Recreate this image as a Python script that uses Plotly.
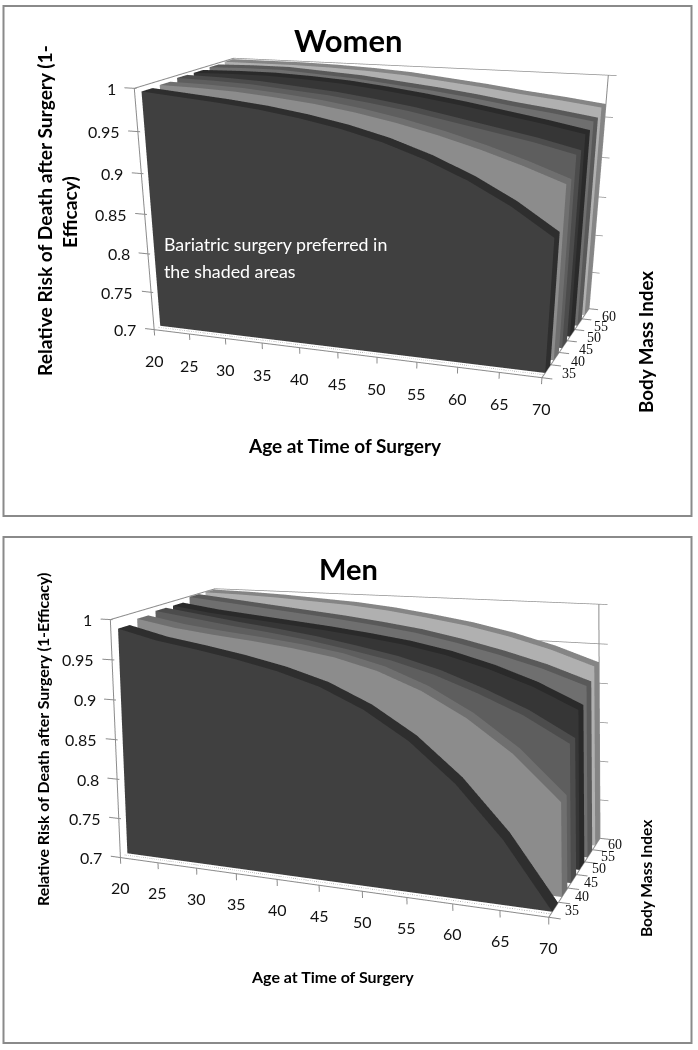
import plotly.graph_objects as go

# ages on the x axis, BMI series on the depth axis
ages = [20, 25, 30, 35, 40, 45, 50, 55, 60, 65, 70]
bmi = [35, 40, 45, 50, 55, 60]
z_ticks = [0.7, 0.75, 0.8, 0.85, 0.9, 0.95, 1]

women_35 = [0.994, 0.990, 0.986, 0.981, 0.974, 0.965, 0.953, 0.937, 0.917, 0.892, 0.861]
women_40 = [0.995, 0.994, 0.992, 0.988, 0.983, 0.976, 0.967, 0.956, 0.943, 0.928, 0.911]
women_45 = [0.997, 0.996, 0.994, 0.990, 0.986, 0.980, 0.973, 0.964, 0.955, 0.946, 0.935]
women_50 = [0.997, 0.998, 0.998, 0.996, 0.993, 0.988, 0.982, 0.975, 0.967, 0.959, 0.950]
women_55 = [0.998, 0.999, 0.999, 0.996, 0.993, 0.988, 0.983, 0.977, 0.970, 0.964, 0.957]
women_60 = [0.999, 0.999, 0.999, 0.998, 0.996, 0.993, 0.988, 0.983, 0.977, 0.972, 0.966]

men_35 = [0.986, 0.974, 0.966, 0.957, 0.946, 0.931, 0.908, 0.876, 0.832, 0.774, 0.700]
men_40 = [0.991, 0.982, 0.976, 0.971, 0.965, 0.957, 0.944, 0.924, 0.896, 0.859, 0.809]
men_45 = [0.994, 0.987, 0.980, 0.974, 0.967, 0.958, 0.948, 0.934, 0.915, 0.893, 0.864]
men_50 = [0.994, 0.987, 0.982, 0.977, 0.972, 0.966, 0.959, 0.949, 0.935, 0.917, 0.893]
men_55 = [0.999, 0.994, 0.989, 0.984, 0.979, 0.973, 0.966, 0.956, 0.944, 0.930, 0.912]
men_60 = [0.999, 0.998, 0.996, 0.993, 0.990, 0.985, 0.978, 0.970, 0.959, 0.945, 0.927]

front_colors = ["#404040", "#8c8c8c", "#5e5e5e", "#363636", "#6f6f6f", "#b0b0b0"]
edge_colors = ["#2e2e2e", "#6f6f6f", "#4c4c4c", "#2a2a2a", "#595959", "#858585"]

XR, YR, ZR = [18.5, 71.5], [31.5, 63.5], [0.688, 1.005]
Y0, Y1 = 32.5, 62.5
AXIS_GREY = "#8c8c8c"
FONT = "Lato"


def add_quads(fig, scene, quads, color):
    xs, ys, zs, ii, jj, kk = [], [], [], [], [], []
    for q in quads:
        n = len(xs)
        for (a, b, c) in q:
            xs.append(a); ys.append(b); zs.append(c)
        ii += [n, n]; jj += [n + 1, n + 2]; kk += [n + 2, n + 3]
    fig.add_trace(go.Mesh3d(x=xs, y=ys, z=zs, i=ii, j=jj, k=kk, color=color, flatshading=True, hoverinfo="skip",
                            lighting=dict(ambient=1, diffuse=0, specular=0, fresnel=0, roughness=1), scene=scene))


def add_series(fig, scene, values):
    for b, vals, fc, ec in zip(bmi, values, front_colors, edge_colors):
        yf, yb = b - 0.7, b + 2.3
        front, top = [], []
        for a0, a1, v0, v1 in zip(ages[:-1], ages[1:], vals[:-1], vals[1:]):
            front.append([(a0, yf, ZR[0] + 0.012), (a1, yf, ZR[0] + 0.012), (a1, yf, v1), (a0, yf, v0)])
            top.append([(a0, yf, v0), (a1, yf, v1), (a1, yb, v1), (a0, yb, v0)])
        side = [[(ages[-1], yf, ZR[0] + 0.012), (ages[-1], yb, ZR[0] + 0.012), (ages[-1], yb, vals[-1]), (ages[-1], yf, vals[-1])]]
        add_quads(fig, scene, front, fc)
        add_quads(fig, scene, top, ec)
        add_quads(fig, scene, side, ec)


def add_lines(fig, scene, segs, color=AXIS_GREY, width=2, dash="solid"):
    xs, ys, zs = [], [], []
    for p0, p1 in segs:
        xs += [p0[0], p1[0], None]; ys += [p0[1], p1[1], None]; zs += [p0[2], p1[2], None]
    fig.add_trace(go.Scatter3d(x=xs, y=ys, z=zs, mode="lines", line=dict(color=color, width=width, dash=dash),
                               hoverinfo="skip", scene=scene))


def add_frame(fig, scene):
    zb = 0.7
    add_lines(fig, scene, [((20, Y0, zb), (20, Y0, 1)), ((20, Y0, 1), (20, Y1, 1)), ((20, Y0, zb), (70, Y0, zb)),
                           ((70, Y0, zb), (70, Y1, zb)), ((70, Y1, zb), (70, Y1, 1))])
    add_lines(fig, scene, [((18.7, Y0, z), (20.3, Y0, z)) for z in z_ticks])
    add_lines(fig, scene, [((a, Y0, zb), (a, Y0, 0.692)) for a in ages])
    add_lines(fig, scene, [((70, b - 2.5, zb), (71.2, b - 2.5, zb)) for b in bmi + [65]])
    add_lines(fig, scene, [((20, Y1, z), (71, Y1, z)) for z in z_ticks[1:]], color="#909090", width=1.5)
    add_lines(fig, scene, [((20, 33.6, zb), (70, 33.6, zb))], color="#a0a0a0", width=1.5, dash="dot")


def scene_labels(x_shift_y, bmi_shift):
    out = []
    tick_font = dict(family=FONT, size=16, color="#111111")
    for a in ages:
        out.append(dict(x=a, y=Y0, z=0.7, text=str(a), showarrow=False, yshift=x_shift_y, font=tick_font))
    for z in z_ticks:
        out.append(dict(x=20, y=Y0, z=z, text=str(z), showarrow=False, xanchor="right", xshift=-16, font=tick_font))
    for b in bmi:
        out.append(dict(x=70, y=b - 0.7, z=0.7, text=str(b), showarrow=False, xshift=bmi_shift[0], yshift=bmi_shift[1],
                        font=dict(family="Liberation Serif", size=14, color="#111111")))
    return out


def scene_layout(cam, labels):
    eye, cen, up, asp = cam
    ax = dict(visible=False)
    return dict(domain=dict(x=[0, 1], y=[0, 1]), aspectmode="manual",
                aspectratio=dict(x=asp[0], y=asp[1], z=1),
                camera=dict(eye=dict(x=eye[0], y=eye[1], z=eye[2]), center=dict(x=cen[0], y=cen[1], z=cen[2]),
                            up=dict(x=up[0], y=up[1], z=1), projection=dict(type="perspective")),
                xaxis=dict(range=XR, **ax), yaxis=dict(range=YR, **ax), zaxis=dict(range=ZR, **ax),
                annotations=labels)


def note(x, y, text, size, bold=True, angle=0, color="#000000", anchor="center"):
    t = f"<b>{text}</b>" if bold else text
    return dict(x=x / 698, y=1 - y / 1050, xref="paper", yref="paper", text=t, showarrow=False, textangle=angle,
                xanchor=anchor, yanchor="middle", font=dict(family=FONT, size=size, color=color))


def panel_box(y0, y1):
    return dict(type="rect", xref="paper", yref="paper", x0=3.5 / 698, x1=691.5 / 698, y0=1 - y1 / 1050, y1=1 - y0 / 1050,
                line=dict(color="#8a8a8a", width=2))


fig = go.Figure()
add_frame(fig, "scene")
add_series(fig, "scene", [women_35, women_40, women_45, women_50, women_55, women_60])
add_frame(fig, "scene2")
add_series(fig, "scene2", [men_35, men_40, men_45, men_50, men_55, men_60])

cam_w = ([1.7264, -4.7941, 1.2284], [0.1354, -0.6797, -1.0759], [-0.256, 0.6915], [1.7154, 0.9248])
cam_m = ([1.8972, -4.4939, 1.2936], [-0.3967, 0.8714, 0.7322], [-1.1452, 2.7561], [1.8169, 0.8849])

annotations = [
    note(348, 40, "Women", 31),
    note(44, 211, "Relative Risk of Death after Surgery (1-", 19.2, angle=-90),
    note(69, 212, "Efficacy)", 19.2, angle=-90),
    note(345, 445, "Age at Time of Surgery", 19),
    note(645, 342, "Body Mass Index", 18.8, angle=-90),
    note(162, 244, "Bariatric surgery preferred in", 17.8, bold=False, color="#ffffff", anchor="left"),
    note(162, 271, "the shaded areas", 17.8, bold=False, color="#ffffff", anchor="left"),
    note(348, 568, "Men", 29),
    note(42, 740, "Relative Risk of Death after Surgery (1-Efficacy)", 15.9, angle=-90),
    note(332, 976, "Age at Time of Surgery", 16),
    note(646, 878, "Body Mass Index", 15.5, angle=-90),
]

fig.update_layout(width=698, height=1050, margin=dict(l=0, r=0, t=0, b=0), showlegend=False,
                  paper_bgcolor="white", annotations=annotations,
                  shapes=[panel_box(6, 516), panel_box(537, 1043)],
                  scene=scene_layout(cam_w, scene_labels(-31, (24, -1))),
                  scene2=scene_layout(cam_m, scene_labels(-30, (20, 1))))
fig.write_html("out.html", config=dict(displayModeBar=False),
               post_script="document.body.style.margin='0';document.body.style.overflow='hidden';")
